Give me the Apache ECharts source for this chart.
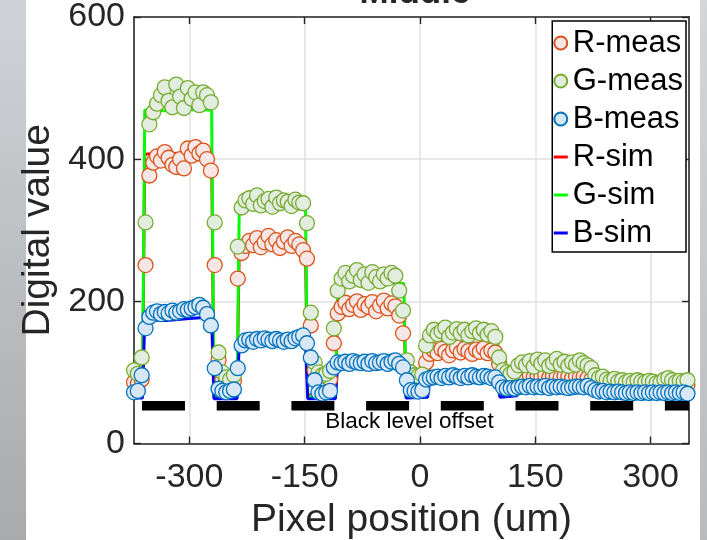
<!DOCTYPE html>
<html><head><meta charset="utf-8">
<script src="https://cdn.jsdelivr.net/npm/echarts@6/dist/echarts.min.js"></script>
<style>html,body{margin:0;padding:0;background:#fff}#c{width:707px;height:540px}</style>
</head><body><div id="c"></div><script>
// ---- data ----
const xPos = [-372,-367,-362,-357,-352,-347,-342,-337,-332,-327,-322,-317,-312,-307,-302,-297,-292,-287,-282,-277,
-272,-267,-262,-257,-252,-247,-242,-237,-232,-227,-222,-217,-212,-207,-202,-197,-192,-187,-182,-177,
-172,-167,-162,-157,-152,-147,-142,-137,-132,-127,-122,-117,-112,-107,-102,-97,-92,-87,-82,-77,
-72,-67,-62,-57,-52,-47,-42,-37,-32,-27,-22,-17,-12,-7,-2,3,8,13,18,23,
28,33,38,43,48,53,58,63,68,73,78,83,88,93,98,103,108,113,118,123,
128,133,138,143,148,153,158,163,168,173,178,183,188,193,198,203,208,213,218,223,
228,233,238,243,248,253,258,263,268,273,278,283,288,293,298,303,308,313,318,323,
328,333,338,343,348];
const rMeas = [86,84,90,251,377,395,404,398,410,402,392,389,400,387,415,405,417,408,412,400,
384,251,117,90,85,84,88,232,268,278,285,279,289,276,283,292,280,286,275,284,
290,278,285,280,272,260,166,103,90,88,86,90,141,183,192,198,189,195,200,188,
196,192,199,186,194,201,190,197,193,180,155,105,88,85,84,86,114,126,131,127,
133,129,124,131,135,128,133,130,126,132,129,134,127,131,128,112,92,88,87,89,
93,95,94,96,93,95,94,96,92,95,94,93,95,94,92,95,93,94,92,90,
86,84,83,82,83,81,82,80,81,82,80,81,80,82,81,80,81,80,82,81,
80,81,80,81,82];
const gMeas = [103,98,121,311,449,466,478,490,501,482,473,505,488,472,500,485,494,476,494,490,
480,311,128,100,93,90,96,277,332,342,345,337,349,335,341,344,333,346,338,342,
340,334,343,339,338,310,184,114,100,96,98,102,162,215,232,240,228,236,244,230,
238,226,241,234,228,238,232,240,236,215,187,117,100,96,95,97,138,152,160,154,
158,163,150,156,161,155,160,152,158,162,155,160,153,158,150,121,103,100,98,101,
110,114,110,116,108,118,112,117,109,113,119,111,115,109,114,111,117,113,110,106,
96,92,94,90,88,91,87,89,86,88,86,89,87,86,88,87,85,86,90,92,
89,86,88,87,89];
const bMeas = [72,74,96,162,178,184,186,182,185,183,187,184,186,189,188,190,192,195,191,182,
166,106,77,74,72,74,76,106,138,145,146,143,147,145,148,146,144,147,145,143,
146,144,148,150,152,141,121,89,72,70,72,74,107,114,113,115,112,116,114,113,
115,112,116,113,114,116,112,115,117,112,107,89,75,74,73,75,90,92,93,94,
92,95,93,96,94,92,95,93,96,94,93,95,94,92,93,86,79,77,78,77,
79,80,79,81,79,80,79,81,78,80,79,80,79,78,79,80,80,79,81,78,
75,73,74,72,73,72,73,72,71,72,71,72,71,72,71,72,71,72,71,72,
71,72,71,72,70];
const simX = [-372,-361,-358,-330,-300,-271,-268,-238,-235,-200,-149,-146,-110,-107,-60,-21,-18,10,13,60,101,104,126,129,180,226,232,350];
const rSim = [70,70,407,409,406,407,68,68,284,283,285,68,68,194,193,195,68,70,130,130,130,70,72,93,93,93,80,80];
const gSim = [68,68,469,468,470,469,66,66,337,338,337,66,66,225,226,225,66,68,148,148,148,68,70,108,108,108,84,84];
const bSim = [64,64,174,173,176,178,63,63,142,143,145,63,63,111,112,113,64,65,92,92,92,65,67,78,78,78,71,71];
const blackLevelX = [-361.6, 350];
const blackLevelY = [53, 53];
const xTicks = [-300,-150,0,150,300];
const yTicks = [0,200,400,600];

const FONT = '"Liberation Sans", Arial, Helvetica, sans-serif';
const AX = '#262626';
const pairs = (xs, ys) => xs.map((x, i) => [x, ys[i]]);

const chart = echarts.init(document.getElementById('c'), null, {renderer: 'canvas'});
const lineIcon = 'path://M0,0H14V3H0Z';
chart.setOption({
  animation: false,
  backgroundColor: '#ffffff',
  textStyle: {fontFamily: FONT},
  grid: {left: 134, right: 18, top: 17, bottom: 96.5, containLabel: false, outerBoundsMode: 'none'},
  xAxis: [{
    type: 'value', min: -372, max: 350, position: 'bottom',
    axisLine: {show: true, onZero: false, lineStyle: {color: AX, width: 1.6}},
    axisTick: {show: true, inside: true, length: 7, customValues: xTicks, lineStyle: {color: AX, width: 1.4}},
    axisLabel: {customValues: xTicks, fontSize: 34, color: AX, margin: 17, fontFamily: FONT},
    splitLine: {show: true, lineStyle: {color: '#e0e0e0', width: 1.5}},
    name: 'Pixel position (um)', nameLocation: 'middle', nameGap: 57,
    nameTextStyle: {fontSize: 39, color: AX, fontFamily: FONT}
  }, {
    type: 'value', min: -372, max: 350, position: 'top',
    axisLine: {show: true, onZero: false, lineStyle: {color: AX, width: 1.6}},
    axisTick: {show: true, inside: true, length: 7, customValues: xTicks, lineStyle: {color: AX, width: 1.4}},
    axisLabel: {show: false}, splitLine: {show: false}
  }],
  yAxis: [{
    type: 'value', min: 0, max: 600, interval: 200, position: 'left',
    axisLine: {show: true, onZero: false, lineStyle: {color: AX, width: 1.6}},
    axisTick: {show: true, inside: true, length: 7, lineStyle: {color: AX, width: 1.4}},
    axisLabel: {fontSize: 34, color: AX, margin: 9, fontFamily: FONT, padding: [5, 0, 0, 0]},
    splitLine: {show: true, lineStyle: {color: '#e0e0e0', width: 1.5}},
    name: 'Digital value', nameLocation: 'middle', nameGap: 72,
    nameTextStyle: {fontSize: 39, color: AX, fontFamily: FONT}
  }, {
    type: 'value', min: 0, max: 600, interval: 200, position: 'right',
    axisLine: {show: true, onZero: false, lineStyle: {color: AX, width: 1.6}},
    axisTick: {show: true, inside: true, length: 7, lineStyle: {color: AX, width: 1.4}},
    axisLabel: {show: false}, splitLine: {show: false}
  }],
  legend: {
    orient: 'vertical', top: 21, right: 21,
    backgroundColor: '#ffffff', borderColor: '#000000', borderWidth: 1.5,
    padding: [3, 3, 0, 1], itemGap: 0, itemWidth: 14, itemHeight: 13,
    textStyle: {fontSize: 31, color: '#000', lineHeight: 38, fontFamily: FONT},
    data: [
      {name: 'R-meas', icon: 'circle'}, {name: 'G-meas', icon: 'circle'}, {name: 'B-meas', icon: 'circle'},
      {name: 'R-sim', icon: lineIcon}, {name: 'G-sim', icon: lineIcon}, {name: 'B-sim', icon: lineIcon}
    ]
  },
  graphic: [
    {type: 'rect', shape: {x: 0, y: 0, width: 26, height: 540}, z: -10,
     style: {fill: new echarts.graphic.LinearGradient(0, 0, 0, 1, [{offset: 0, color: '#cfd3d7'}, {offset: 1, color: '#a9aaab'}])}},
    {type: 'rect', shape: {x: 700, y: 0, width: 7, height: 540}, z: -10,
     style: {fill: new echarts.graphic.LinearGradient(0, 0, 0, 1, [{offset: 0, color: '#d3d6d9'}, {offset: 1, color: '#b9babb'}])}},
    {type: 'text', x: 415, y: -7, z: 50,
     style: {text: 'Middle', fontSize: 35, fontWeight: 'bold', fontFamily: FONT, fill: AX, align: 'center', verticalAlign: 'middle'}},
    {type: 'text', x: 409.5, y: 422, z: 50,
     style: {text: 'Black level offset', fontSize: 22.5, fontFamily: FONT, fill: '#000', align: 'center', verticalAlign: 'middle'}}
  ],
  series: [
    {name: 'R-sim', type: 'line', data: pairs(simX, rSim), showSymbol: false, symbol: 'none', z: 2,
     color: '#ff0000', itemStyle: {color: '#ff0000', borderColor: '#ff0000'}, lineStyle: {color: '#ff0000', width: 3}},
    {name: 'G-sim', type: 'line', data: pairs(simX, gSim), showSymbol: false, symbol: 'none', z: 2,
     color: '#00ff00', itemStyle: {color: '#00ff00', borderColor: '#00ff00'}, lineStyle: {color: '#00ff00', width: 3}},
    {name: 'B-sim', type: 'line', data: pairs(simX, bSim), showSymbol: false, symbol: 'none', z: 2,
     color: '#0000ff', itemStyle: {color: '#0000ff', borderColor: '#0000ff'}, lineStyle: {color: '#0000ff', width: 3}},
    {name: 'R-meas', type: 'scatter', data: pairs(xPos, rMeas), symbol: 'circle', symbolSize: 15, z: 3,
     itemStyle: {color: '#f6e7e6', borderColor: '#d95319', borderWidth: 1.3, opacity: 1}},
    {name: 'G-meas', type: 'scatter', data: pairs(xPos, gMeas), symbol: 'circle', symbolSize: 15, z: 3,
     itemStyle: {color: '#e2ecdf', borderColor: '#77ac30', borderWidth: 1.3, opacity: 1}},
    {name: 'B-meas', type: 'scatter', data: pairs(xPos, bMeas), symbol: 'circle', symbolSize: 15, z: 3,
     itemStyle: {color: '#d7e7f6', borderColor: '#0072bd', borderWidth: 1.3, opacity: 1}},
    {name: 'Black level', type: 'line', data: pairs(blackLevelX, blackLevelY), showSymbol: false, symbol: 'none', z: 4,
     lineStyle: {color: '#000', width: 9.5, type: [43, 31.7], cap: 'butt'}, legendHoverLink: false}
  ]
});
</script></body></html>
